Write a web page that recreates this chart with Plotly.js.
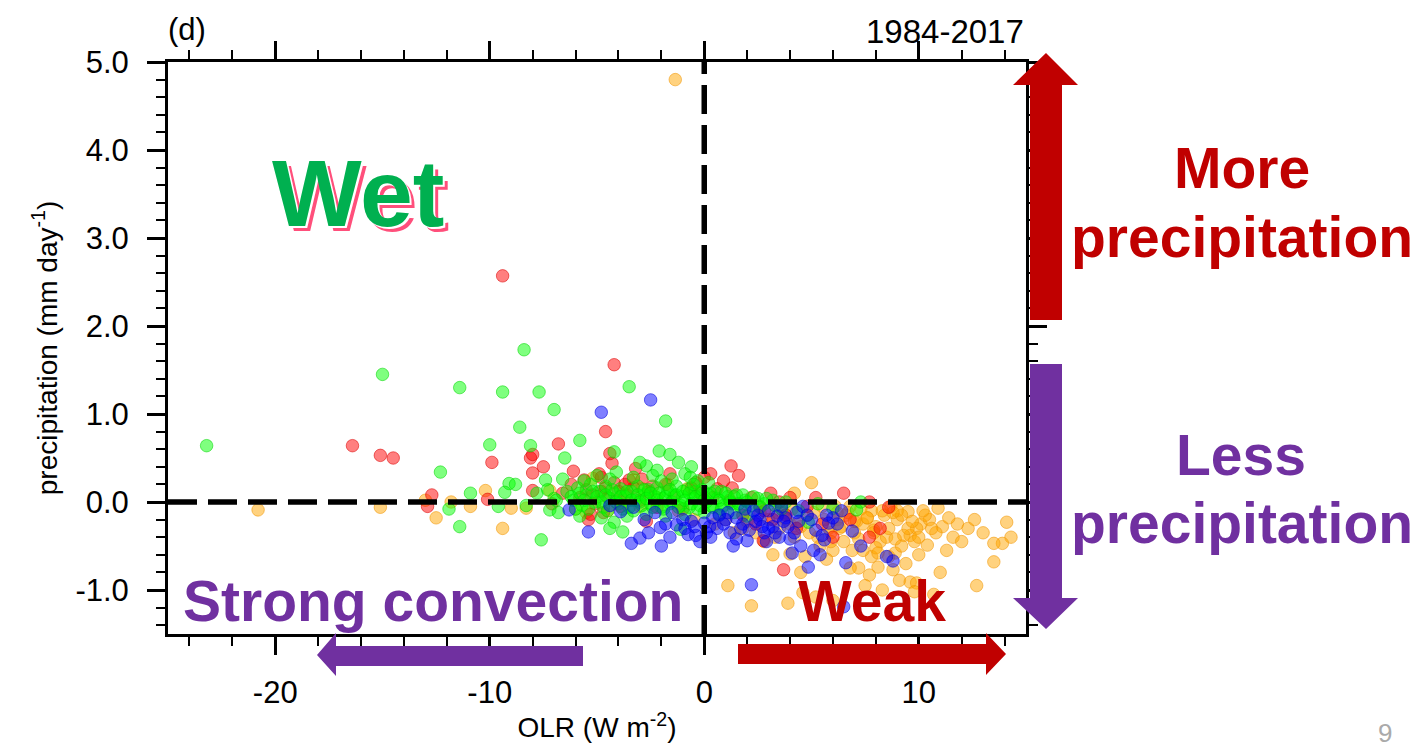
<!DOCTYPE html>
<html>
<head>
<meta charset="utf-8">
<script src="https://cdn.plot.ly/plotly-3.0.1.min.js"></script>
<style>html,body{margin:0;padding:0;background:#fff;}#chart{width:1424px;height:747px;}</style>
</head>
<body>
<div id="chart"></div>
<script>
// ---------------- data ----------------
const xTickVals = [-20, -10, 0, 10];
const xTickLabels = ["-20", "-10", "0", "10"];
const yTickVals = [-1, 0, 1, 2, 3, 4, 5];
const yTickLabels = ["-1.0", "0.0", "1.0", "2.0", "3.0", "4.0", "5.0"];

const orangeX = [-1.35,-20.8,-15.1,-13.0,-12.5,-10.9,-10.2,-9.4,-9.0,-8.3,-11.8,-6.0,-5.2,-7.2,-5.5,-3.3,-2.9,-1.7,-0.8,
  5.0,4.2,1.1,2.2,4.0,7.2,6.0,8.1,7.7,7.8,4.6,10.9,14.1,14.3,13.9,13.5,13.5,12.7,11.0,11.8,11.6,11.1,10.4,10.1,9.6,9.3,
  9.1,9.6,9.9,8.9,8.8,8.6,7.4,8.0,9.0,9.5,10.5,8.4,7.8,6.8,6.2,5.5,4.8,5.8,6.5,7.0,8.2,9.2,4.0,3.5,3.0,2.4,1.8,1.0,0.5,
  -0.5,-1.2,-2.2,-3.8,-4.5,-3.0,4.2,5.3,6.2,7.4,10.0,10.8,12.3,8.7,9.8,5.7,6.8,4.5,3.2,2.8,11.3,12.0,13.0,9.4,7.5,8.3,
  9.8,10.7,5.2,6.0,3.9,6.6,7.1,7.9,8.5,9.0,5.9,6.4,7.6,4.4,3.7,9.9,10.3,8.0,
  3.4,3.8,4.1,4.5,4.9,5.1,5.6,5.9,6.3,6.7,7.0,7.2,7.6,7.9,8.3,8.6,8.9,9.2,9.5,9.7,10.2,10.6,11.4,12.6,5.4,6.9,8.1,4.7,
  3.3,2.6,2.0,1.4,6.1,7.3,8.8,10.0];
const orangeY = [4.80,-0.09,-0.06,0.02,-0.18,-0.05,0.13,-0.30,-0.07,-0.07,0.00,-0.08,0.27,0.13,-0.12,0.25,0.15,0.20,0.15,
  0.22,0.10,-0.95,-1.18,-0.59,-0.75,-0.55,-0.74,-0.83,-0.62,-1.03,-0.07,-0.23,-0.40,-0.47,-0.47,-0.68,-0.95,-0.80,-0.25,-0.40,-0.28,-0.49,-0.25,-0.38,-0.38,
  -0.89,-0.91,-0.92,-0.58,-0.77,-0.62,-0.25,-0.28,-0.20,-0.11,-0.20,-0.15,-0.10,-0.05,-0.12,-0.05,-0.15,-0.30,-0.45,-0.35,-0.45,-0.50,-0.25,-0.30,-0.20,-0.35,-0.30,-0.20,-0.25,
  -0.20,-0.10,0.05,0.10,-0.10,-0.05,-0.40,-0.40,-0.20,-0.55,-0.60,-0.35,-0.30,-0.05,-0.45,-0.65,-0.75,-0.80,-0.60,-0.45,-0.55,-0.45,-0.35,-0.70,-0.95,-1.00,
  -1.02,-1.05,-1.08,-1.12,-1.15,-0.15,-0.22,-0.32,-0.40,-0.10,-0.35,-0.28,-0.18,-0.25,-0.12,-0.30,-0.15,-0.52,
  -0.12,-0.20,-0.08,-0.28,-0.35,-0.12,-0.20,-0.45,-0.30,-0.12,-0.22,-0.42,-0.18,-0.35,-0.10,-0.30,-0.42,-0.15,-0.30,-0.22,-0.10,-0.30,-0.18,-0.20,-0.50,-0.55,-0.58,-0.62,
  -0.40,-0.12,-0.22,-0.35,-0.05,-0.08,-0.12,-0.40];

const redX = [-9.4,-16.4,-15.1,-14.5,-4.2,-4.6,-6.8,-9.9,-8.1,-8.0,-7.5,-8.0,-4.3,-4.8,-12.7,-12.9,-10.1,-8.0,
  1.25,0.3,1.3,6.5,7.7,8.6,3.7,2.75,
  -6.6,-6.2,-5.8,-5.5,-5.1,-4.8,-4.5,-4.2,-3.9,-3.6,-3.3,-3.0,-2.6,-2.2,-1.8,-1.4,-1.0,-0.6,-0.2,0.0,0.6,0.9,1.6,2.2,2.8,
  3.1,3.5,4.3,4.8,5.2,5.5,6.0,6.8,7.7,8.2,-5.4,-5.3,-4.7,-2.7,1.8,2.4,3.2,-7.1,-3.2,-1.6,-6.1,-4.4,-3.5,
  -5.6,-4.9,-4.0,-3.7,-2.9,-2.4,-5.2,-4.6,-0.4,0.4,1.2,2.6,3.8,4.0];
const redY = [2.57,0.64,0.53,0.50,1.56,0.80,0.66,0.45,0.50,0.54,0.40,0.33,0.44,0.28,0.08,-0.05,0.03,0.13,
  0.41,0.32,0.16,0.10,0.00,-0.06,-0.77,-0.44,
  0.10,0.20,0.05,0.14,-0.02,0.12,0.05,0.22,-0.05,0.08,0.16,0.02,0.12,-0.06,0.20,0.06,-0.08,0.16,0.10,0.28,0.15,0.24,0.30,0.05,-0.10,
  0.10,0.00,-0.30,-0.05,0.05,-0.25,-0.40,-0.20,-0.40,-0.30,-0.20,-0.14,-0.12,-0.22,-0.15,-0.25,-0.20,-0.02,0.38,0.32,0.35,0.55,0.25,
  0.25,0.32,0.12,0.20,0.26,0.18,0.08,0.16,0.22,0.05,0.02,-0.05,-0.15,0.05];

const greenX = [-23.2,-15.0,-11.4,-8.4,-9.4,-7.7,-7.0,-3.5,-1.8,-8.6,-10.0,-8.1,-5.8,-4.2,-2.1,-1.6,-6.5,-2.7,-0.6,-12.3,
  -7.4,-11.4,-7.6,-3.8,-4.2,-4.4,-1.1,-11.9,-7.2,-9.1,-10.9,-9.6,-9.3,-8.8,
  -6.4,-6.1,-5.9,-5.7,-5.5,-5.3,-5.1,-4.9,-4.7,-4.6,-4.4,-4.2,-4.0,-3.9,-3.7,-3.5,-3.4,-3.2,-3.1,-2.9,-2.8,-2.6,-2.5,-2.3,
  -2.2,-2.0,-1.9,-1.7,-1.6,-1.4,-1.3,-1.1,-1.0,-0.8,-0.7,-0.5,-0.4,-0.2,-0.1,0.1,0.3,0.4,0.6,0.8,0.9,1.1,1.3,1.5,1.7,1.9,
  2.2,2.5,2.8,3.2,
  -5.0,-4.1,-3.3,-2.4,-1.5,-0.9,-0.3,0.2,-6.8,-5.8,-4.8,-3.6,-2.7,-1.8,-0.9,0.0,0.7,1.4,2.0,3.6,4.4,4.85,6.0,7.1,7.3,5.3,
  -7.8,-8.3,-7.0,-6.6,-1.2,-0.65,-2.2,-3.0,
  -6.2,-6.0,-5.8,-5.6,-5.4,-5.2,-5.0,-4.8,-4.6,-4.5,-4.3,-4.1,-3.9,-3.8,-3.6,-3.4,-3.3,-3.1,-3.0,-2.8,-2.7,-2.5,-2.4,-2.2,
  -2.1,-1.9,-1.8,-1.6,-1.5,-1.3,-1.2,-1.0,-0.9,-0.7,-0.6,-0.4,-0.3,-0.1,0.0,0.2,0.3,0.5,0.7,0.8,1.0,1.2,1.4,1.6,1.8,2.0,
  2.3,2.6,2.9,3.3,3.8,-6.9,-7.3,-5.6,-4.4,-2.0,-0.5];
const greenY = [0.64,1.45,1.30,1.73,1.25,1.25,1.05,1.31,0.92,0.85,0.65,0.64,0.70,0.57,0.58,0.54,0.50,0.41,0.40,0.34,
  0.25,-0.28,-0.43,-0.34,-0.23,-0.30,-0.31,-0.08,-0.09,0.21,0.10,-0.05,0.11,0.20,
  0.12,0.02,0.16,-0.04,0.08,0.20,0.00,0.12,-0.06,0.18,0.04,0.10,-0.02,0.15,0.06,-0.06,0.12,0.02,0.18,-0.04,0.08,0.14,-0.02,0.06,
  0.16,-0.06,0.04,0.12,-0.02,0.08,0.18,-0.04,0.06,0.14,-0.06,0.04,0.12,-0.04,0.08,0.00,0.10,-0.06,0.04,0.12,-0.04,0.06,-0.02,0.08,-0.06,0.02,
  -0.04,0.04,-0.02,0.02,
  0.30,0.34,0.28,0.30,0.26,0.32,0.24,0.22,-0.12,-0.16,-0.18,-0.16,-0.14,-0.16,-0.14,-0.12,-0.14,-0.12,-0.16,-0.08,-0.10,-0.23,-0.07,-0.09,0.00,-0.02,
  0.10,-0.04,0.04,0.26,0.45,0.28,0.36,0.45,
  0.06,-0.08,0.10,0.02,-0.08,0.12,0.06,0.00,0.08,-0.10,0.14,0.00,0.06,-0.08,0.12,0.02,-0.10,0.08,0.00,0.14,0.04,0.10,-0.06,0.02,
  0.10,-0.08,0.06,0.14,0.00,0.08,-0.06,0.12,0.02,0.10,-0.02,0.06,-0.08,0.14,0.02,0.08,-0.04,0.12,0.02,-0.08,0.10,0.00,0.06,-0.02,0.08,0.00,
  0.06,-0.06,0.04,-0.04,0.00,0.02,0.14,0.24,0.26,0.24,0.20];

const blueX = [-4.8,-2.5,-5.4,-3.4,-3.0,-2.05,-2.0,-1.6,-0.75,-0.4,0.0,-6.3,-3.9,1.35,2.0,0.25,-0.45,0.3,4.85,6.6,2.2,6.9,
  5.1,5.6,4.0,3.5,3.2,8.8,7.3,8.5,6.5,4.5,1.0,1.8,2.5,3.0,3.8,4.3,5.0,5.7,6.2,2.8,1.2,0.7,-1.0,-1.5,-2.8,-0.2,2.4,3.6,4.6,
  0.4,0.9,1.5,2.1,2.6,3.0,3.4,3.9,4.4,5.2,5.8,6.4,-0.6,-1.3,-2.3,-3.3,-4.4,1.9,2.9,4.1,5.4,
  0.6,1.1,1.7,2.3,2.7,3.3,3.7,4.2,4.8,5.5,6.0,-0.9,-1.8,-2.6,0.1,1.5];
const blueY = [1.02,1.16,-0.34,-0.47,-0.41,-0.29,-0.50,-0.40,-0.37,-0.38,-0.24,-0.09,-0.11,-0.50,-0.44,-0.28,-0.28,-0.40,-0.74,-0.69,-0.94,-0.33,
  -0.55,-0.43,-0.42,-0.40,-0.28,-0.67,-0.50,-0.62,-1.19,-0.50,-0.20,-0.25,-0.15,-0.10,-0.18,-0.12,-0.20,-0.15,-0.25,-0.35,-0.35,-0.15,-0.20,-0.12,-0.20,-0.45,-0.22,-0.05,-0.05,
  -0.18,-0.25,-0.18,-0.32,-0.20,-0.30,-0.16,-0.28,-0.22,-0.32,-0.24,-0.10,-0.22,-0.26,-0.12,-0.06,-0.04,-0.08,-0.45,-0.58,-0.60,
  -0.30,-0.12,-0.30,-0.10,-0.28,-0.35,-0.22,-0.35,-0.15,-0.38,-0.18,-0.30,-0.25,-0.35,-0.35,-0.42];

const periodLabel = "1984-2017";
const panelLabel = "(d)";

// ---------------- styling helpers ----------------
const FONT = "Liberation Sans, Arial, Helvetica, sans-serif";
const L = 168, R = 1026, T = 62, B = 634;
const px = X => (X - L) / (R - L);
const py = Y => (B - Y) / (B - T);
const DARKRED = "#C00000", PURPLE = "#7030A0";

function mk(x, y, fill, edge) {
  return {type: "scatter", mode: "markers", x: x, y: y, hoverinfo: "skip", showlegend: false,
    marker: {size: 12.5, color: fill, line: {color: edge, width: 1}}};
}
const traces = [
  mk(orangeX, orangeY, "rgba(255,165,0,0.5)", "rgba(240,150,0,0.55)"),
  mk(redX, redY, "rgba(255,0,0,0.5)", "rgba(220,0,0,0.55)"),
  mk(greenX, greenY, "rgba(0,255,0,0.5)", "rgba(0,215,0,0.55)"),
  mk(blueX, blueY, "rgba(0,0,255,0.5)", "rgba(0,0,220,0.55)")
];

function poly(pts, color) {
  const d = pts.map((p, i) => (i ? "L" : "M") + px(p[0]).toFixed(5) + "," + py(p[1]).toFixed(5)).join(" ") + " Z";
  return {type: "path", xref: "paper", yref: "paper", path: d, fillcolor: color, line: {width: 0}, layer: "above"};
}

const shapes = [
  {type: "line", xref: "x", yref: "y", x0: -25, x1: 15, y0: 0, y1: 0, layer: "above",
   line: {color: "#000", width: 5.5, dash: "29px,11px"}},
  {type: "line", xref: "x", yref: "y", x0: 0, x1: 0, y0: -1.5, y1: 5, layer: "above",
   line: {color: "#000", width: 5.5, dash: "29px,11px"}},
  // up arrow (red)
  poly([[1030,320],[1062,320],[1062,85],[1078,85],[1046,53],[1013,85],[1030,85]], DARKRED),
  // down arrow (purple)
  poly([[1030,364],[1062,364],[1062,598],[1078,598],[1046,629],[1013,598],[1030,598]], PURPLE),
  // left arrow (purple)
  poly([[583,646],[583,666],[336,666],[336,676],[317,655],[336,633],[336,646]], PURPLE),
  // right arrow (red)
  poly([[738,644],[986,644],[986,633],[1006,654],[986,675],[986,664],[738,664]], DARKRED)
];

function ann(text, X, Y, size, color, opts) {
  return Object.assign({xref: "paper", yref: "paper", x: px(X), y: py(Y), text: text, showarrow: false,
    xanchor: "center", yanchor: "middle", font: {family: FONT, size: size, color: color}}, opts || {});
}
function bold(size, color, extra) {
  return {font: Object.assign({family: FONT, size: size, color: color, weight: 700}, extra || {})};
}

const annotations = [
  ann(panelLabel, 166, 30, 31, "#000", {xanchor: "left"}),
  ann(periodLabel, 1026, 32, 33, "#000", {xanchor: "right"}),
  ann("Wet", 358, 193, 95, "#00B050", bold(95, "#00B050", {shadow: "2px 2px 0px #ffffff, 5px 5px 0px #FF4F7B"})),
  ann("More", 1242, 168, 57, DARKRED, bold(57, DARKRED)),
  ann("precipitation", 1242, 237, 57, DARKRED, bold(57, DARKRED)),
  ann("Less", 1241, 455, 57, PURPLE, bold(57, PURPLE)),
  ann("precipitation", 1242, 523, 57, PURPLE, bold(57, PURPLE)),
  ann("Strong convection", 433, 601, 57, PURPLE, bold(57, PURPLE)),
  ann("Weak", 872, 601, 57, DARKRED, bold(57, DARKRED)),
  ann("9", 1385, 733, 26, "#AAAAAA")
];

const axisCommon = {
  showgrid: false, zeroline: false, showline: true, linecolor: "#000", linewidth: 3,
  mirror: "allticks", ticks: "outside", tickcolor: "#000", tickwidth: 3, ticklen: 18,
  tickfont: {family: FONT, size: 31, color: "#000"}
};

const layout = {
  width: 1424, height: 747,
  margin: {l: L, r: 1424 - R, t: T, b: 747 - B, pad: 0},
  paper_bgcolor: "#fff", plot_bgcolor: "#fff",
  showlegend: false,
  xaxis: Object.assign({}, axisCommon, {
    range: [-25, 15], tickmode: "array", tickvals: xTickVals, ticktext: xTickLabels,
    ticklabelstandoff: 11,
    minor: {dtick: 2, tick0: 0, ticks: "outside", ticklen: 9, tickwidth: 2, tickcolor: "#000"},
    title: {text: "OLR (W m<sup>-2</sup>)", font: {family: FONT, size: 28, color: "#000"}, standoff: 9}
  }),
  yaxis: Object.assign({}, axisCommon, {
    range: [-1.5, 5], tickmode: "array", tickvals: yTickVals, ticktext: yTickLabels,
    ticklabelstandoff: 12,
    minor: {dtick: 0.2, tick0: 0, ticks: "outside", ticklen: 9, tickwidth: 2, tickcolor: "#000"},
    title: {text: "precipitation (mm day<sup>-1</sup>)", font: {family: FONT, size: 28, color: "#000"}, standoff: 10}
  }),
  shapes: shapes,
  annotations: annotations
};

Plotly.newPlot("chart", traces, layout, {staticPlot: true, displayModeBar: false});
</script>
</body>
</html>
